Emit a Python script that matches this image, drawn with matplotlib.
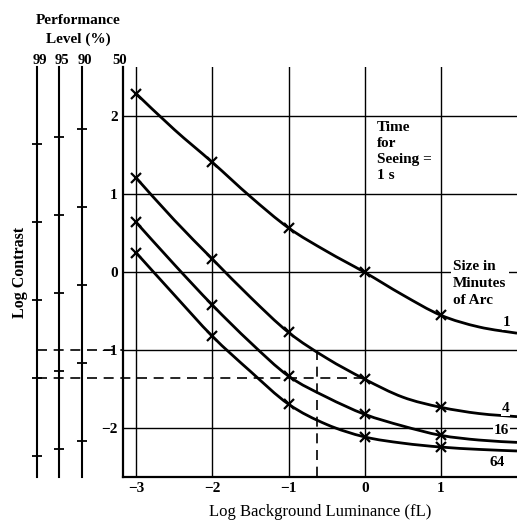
import matplotlib
matplotlib.use("Agg")
import matplotlib.pyplot as plt
from matplotlib.path import Path
from matplotlib.patches import PathPatch
from matplotlib.transforms import blended_transform_factory

# ---------------- data ----------------
log_luminance = [-3, -2.5, -2, -1.5, -1, -0.5, 0, 0.5, 1, 1.5, 2]
contrast_size_1 = [2.29, 1.83, 1.41, 0.97, 0.57, 0.27, 0.00, -0.29, -0.55, -0.70, -0.78]
contrast_size_4 = [1.21, 0.67, 0.17, -0.32, -0.77, -1.10, -1.37, -1.60, -1.73, -1.81, -1.85]
contrast_size_16 = [0.64, 0.10, -0.42, -0.90, -1.33, -1.60, -1.82, -1.97, -2.09, -2.15, -2.18]
contrast_size_64 = [0.25, -0.29, -0.82, -1.27, -1.69, -1.95, -2.11, -2.19, -2.24, -2.27, -2.29]
size_labels = ["1", "4", "16", "64"]
marker_index = [0, 2, 4, 6, 8]          # points at whole log units carry an x marker

perf_levels = ["99", "95", "90"]
perf_offsets = [-0.35, -0.27, -0.16]   # shift of each performance scale vs. 50 %
scale_steps = [2, 1, 0, -1, -2]

x_ticks = [-3, -2, -1, 0, 1]
y_ticks = [-2, -1, 0, 1, 2]
x_ticklabels = ["\u22123", "\u22122", "\u22121", "0", "1"]
y_ticklabels = ["\u22122", "\u22121", "0", "1", "2"]

example_contrast = -1.0
example_contrast_99 = -1.36
example_luminance = -0.62
example_curve_x = 0.0

# ---------------- layout ----------------
W, H = 517, 521
plt.rcParams['font.family'] = ['Liberation Serif', 'DejaVu Serif']
plt.rcParams['font.weight'] = 'bold'
FS = 11

fig = plt.figure(figsize=(W / 100, H / 100), dpi=100)
left_px, right_px, top_px, bottom_px = 123.3, 517.0, 67.2, 476.7
ax = fig.add_axes([left_px / W, 1 - bottom_px / H,
                   (right_px - left_px) / W, (bottom_px - top_px) / H])
xmin, xmax = -3.17, 2.0
ymin, ymax = -2.62, 2.63
ax.set_xlim(xmin, xmax)
ax.set_ylim(ymin, ymax)

for s in ["top", "right"]:
    ax.spines[s].set_visible(False)
for s in ["left", "bottom"]:
    ax.spines[s].set_linewidth(1.6)

ax.set_xticks(x_ticks)
ax.set_xticklabels(x_ticklabels)
ax.set_yticks(y_ticks)
ax.set_yticklabels(y_ticklabels)
ax.tick_params(axis="both", length=0, labelsize=FS)
ax.tick_params(axis="x", pad=4)
ax.tick_params(axis="y", pad=4)
ax.grid(True, color="black", linewidth=1.0)
ax.set_axisbelow(True)


def smooth_path(xs, ys):
    """Catmull-Rom curve through the given points, as Bezier segments."""
    pts = list(zip(xs, ys))
    verts = [pts[0]]
    codes = [Path.MOVETO]
    n = len(pts)
    for i in range(n - 1):
        p0 = pts[i - 1] if i > 0 else pts[i]
        p1 = pts[i]
        p2 = pts[i + 1]
        p3 = pts[i + 2] if i + 2 < n else pts[i + 1]
        c1 = (p1[0] + (p2[0] - p0[0]) / 6, p1[1] + (p2[1] - p0[1]) / 6)
        c2 = (p2[0] - (p3[0] - p1[0]) / 6, p2[1] - (p3[1] - p1[1]) / 6)
        verts += [c1, c2, p2]
        codes += [Path.CURVE4] * 3
    return Path(verts, codes)


# curves
for vals in [contrast_size_1, contrast_size_4, contrast_size_16, contrast_size_64]:
    ax.add_patch(PathPatch(smooth_path(log_luminance, vals), fill=False,
                           edgecolor="black", lw=2.0, clip_on=False, zorder=3))
    ax.plot([log_luminance[i] for i in marker_index],
            [vals[i] for i in marker_index], ls="none", color="black",
            marker="x", ms=7, mew=1.6, clip_on=False, zorder=3)

# curve labels
label_pos = [(1.86, -0.64), (1.85, -1.75), (1.80, -2.03), (1.74, -2.44)]
for lab, (lx, ly) in zip(size_labels, label_pos):
    ax.text(lx, ly, lab, fontsize=FS, ha="center", va="center", zorder=4,
            bbox=dict(facecolor="white", edgecolor="none", pad=0.5))

ax.text(0.16, 1.94, "Time\nfor\nSeeing =\n1 s", fontsize=FS, ha="left",
        va="top", linespacing=1.3, zorder=4)
ax.text(1.16, 0.16, "Size in\nMinutes\nof Arc", fontsize=FS, ha="left",
        va="top", linespacing=1.4, zorder=4,
        bbox=dict(facecolor="white", edgecolor="none", pad=1.5))

ax.set_xlabel("Log Background Luminance (fL)", fontsize=12, labelpad=6)

# performance-level scales to the left
blend = blended_transform_factory(ax.transAxes, ax.transData)
scale_px = [37.0, 59.0, 81.5]
scale_fx = [(p - left_px) / (right_px - left_px) for p in scale_px]
for fx, off in zip(scale_fx, perf_offsets):
    ax.plot([fx, fx], [0, 1], transform=ax.transAxes, color="black",
            lw=1.5, clip_on=False)
    ax.plot([fx] * len(scale_steps), [s + off for s in scale_steps],
            transform=blend, ls="none", marker="_", ms=7, mew=1.3,
            color="black", clip_on=False)

# dashed worked example
dash = dict(color="black", lw=1.2, dashes=(6, 4), clip_on=False, zorder=2)
ax.plot([scale_fx[0], 0], [example_contrast, example_contrast],
        transform=blend, **dash)
fx_curve = (example_curve_x - xmin) / (xmax - xmin)
ax.plot([scale_fx[0], fx_curve], [example_contrast_99, example_contrast_99],
        transform=blend, **dash)
ax.plot([example_luminance, example_luminance], [example_contrast, ymin], **dash)

# header texts
def fpos(x, y):
    return x / W, 1 - y / H

fig.text(*fpos(78, 21), "Performance", fontsize=FS, ha="center", va="center")
fig.text(*fpos(78, 39), "Level (%)", fontsize=FS, ha="center", va="center")
for p, lab in zip(scale_px, perf_levels):
    fig.text(*fpos(p + 3, 60), lab, fontsize=FS - 0.5, ha="center", va="center")
fig.text(*fpos(120, 60), "50", fontsize=FS - 0.5, ha="center", va="center")
fig.text(*fpos(20, 272), "Log Contrast", fontsize=11.5, ha="center",
         va="center", rotation=90)

fig.savefig("out.png", dpi=100)
